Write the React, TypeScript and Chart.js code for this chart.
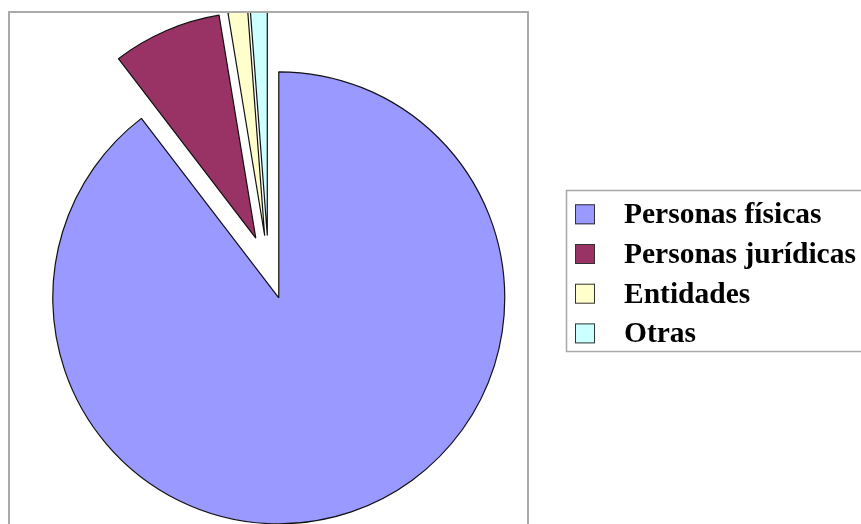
import React, { useEffect, useRef } from 'react';
import { Chart, registerables, ArcElement, PieController } from 'chart.js';

// ---- data ----
const categories = ['Personas físicas', 'Personas jurídicas', 'Entidades', 'Otras'];
const shares = [89.6, 7.8, 1.4, 1.2];
const sliceColors = ['#9999FF', '#993366', '#FFFFCC', '#CCFFFF'];

// Arc that is pulled out of the pie by a fixed distance (Excel-style explosion),
// without enlarging the slice radius as Chart.js' own `offset` does.
class ExplodedArc extends ArcElement {
  static id = 'explodedArc';
  static defaults = { ...(ArcElement as any).defaults, explode: 0 };
  draw(ctx: CanvasRenderingContext2D) {
    const self = this as any;
    const shift = self.options.explode || 0;
    const mid = (self.startAngle + self.endAngle) / 2;
    ctx.save();
    ctx.translate(Math.cos(mid) * shift, Math.sin(mid) * shift);
    super.draw(ctx);
    ctx.restore();
  }
}

class ExplodedPieController extends PieController {
  static id = 'explodedPie';
  static defaults = { dataElementType: 'explodedArc' };
}

Chart.register(...registerables, ExplodedArc, ExplodedPieController);

const framePlugin = {
  id: 'plotFrame',
  afterDatasetsDraw(chart: any, _args: any, opts: any) {
    const ctx = chart.ctx;
    ctx.save();
    ctx.strokeStyle = opts.color;
    ctx.lineWidth = opts.lineWidth;
    ctx.strokeRect(opts.left, opts.top, opts.width, opts.height);
    ctx.restore();
  },
};

const boxLegendPlugin = {
  id: 'boxLegend',
  afterDraw(chart: any, _args: any, opts: any) {
    const ctx = chart.ctx;
    const labels: string[] = chart.data.labels;
    const colors: string[] = chart.data.datasets[0].backgroundColor;
    ctx.save();
    ctx.strokeStyle = opts.borderColor;
    ctx.lineWidth = opts.borderWidth;
    ctx.strokeRect(opts.left, opts.top, opts.width, opts.height);
    ctx.font = opts.font;
    ctx.textBaseline = 'alphabetic';
    labels.forEach((label, i) => {
      const cy = opts.firstRow + i * opts.rowGap;
      const s = opts.swatch;
      ctx.fillStyle = colors[i];
      ctx.fillRect(opts.swatchX, cy - s / 2, s, s);
      ctx.strokeStyle = '#333333';
      ctx.lineWidth = 1;
      ctx.strokeRect(opts.swatchX + 0.5, cy - s / 2 + 0.5, s - 1, s - 1);
      ctx.fillStyle = '#000000';
      ctx.fillText(label, opts.textX, cy + opts.baselineShift);
    });
    ctx.restore();
  },
};

export default function App() {
  const canvasRef = useRef<HTMLCanvasElement>(null);

  useEffect(() => {
    const canvas = canvasRef.current;
    if (!canvas) return;
    const chart = new Chart(canvas, {
      type: 'explodedPie' as any,
      data: {
        labels: categories,
        datasets: [
          {
            data: shares,
            backgroundColor: sliceColors,
            borderColor: '#111111',
            borderWidth: 1.2,
            explode: 32,
            clip: { top: -2, left: false, right: false, bottom: false },
          } as any,
        ],
      },
      options: {
        responsive: false,
        devicePixelRatio: 1,
        animation: false,
        radius: 226,
        layout: { padding: { left: 0, right: 324, top: 11, bottom: 0 } },
        events: [],
        plugins: {
          legend: { display: false },
          tooltip: { enabled: false },
          plotFrame: { left: 9, top: 12, width: 519, height: 600, color: '#aaaaaa', lineWidth: 2 },
          boxLegend: {
            left: 566.5,
            top: 190.5,
            width: 400,
            height: 161,
            borderColor: '#a8a8a8',
            borderWidth: 1.5,
            swatchX: 575,
            swatch: 20,
            firstRow: 214.3,
            rowGap: 39.7,
            textX: 624,
            baselineShift: 9,
            font: 'bold 29.5px "Liberation Serif", "Times New Roman", serif',
          },
        } as any,
      } as any,
      plugins: [framePlugin, boxLegendPlugin],
    });
    return () => chart.destroy();
  }, []);

  return (
    <div
      style={{
        position: 'fixed',
        left: 0,
        top: 0,
        width: 861,
        height: 524,
        background: '#ffffff',
        overflow: 'hidden',
      }}
    >
      <canvas ref={canvasRef} width={861} height={524} style={{ display: 'block' }} />
    </div>
  );
}
